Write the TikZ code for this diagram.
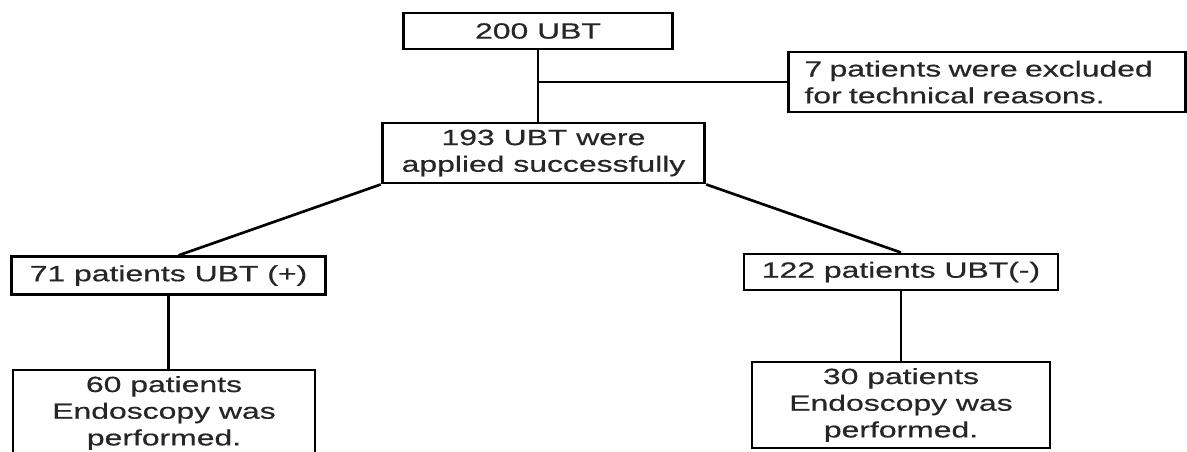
\documentclass[tikz,border=0pt]{standalone}
\usepackage{fontspec}
\setmainfont[FakeStretch=1.45, FakeBold=0.6]{Liberation Sans}
\begin{document}
\begin{tikzpicture}[x=0.75pt, y=-0.75pt, every node/.style={draw, line width=2.2pt, inner sep=0pt, align=center, text=black!85, font=\fontsize{16.5}{20}\selectfont}, link/.style={line width=2pt}]
		\useasboundingbox (0,0) rectangle (1187,452);
		\clip (0,0) rectangle (1187,452);
		\node[minimum width=201.75pt, minimum height=27pt] at (538,31) (ubt) {200 UBT};
		\node[anchor=west, text width=273.75pt, inner xsep=12pt, minimum height=45pt, align=left] at (787,82) (excl) {7 patients were excluded\\for technical reasons.};
		\node[minimum width=242pt, minimum height=45pt] at (543.5,153) (succ) {193 UBT were\\applied successfully};
		\node[minimum width=236pt, minimum height=28pt] at (168.5,275.5) (pos) {71 patients UBT (+)};
		\node[minimum width=235.5pt, minimum height=27pt] at (901,272) (neg) {122 patients UBT(-)};
		\node[minimum width=226.5pt, minimum height=64.5pt] at (164,413) (endpos) {60 patients\\Endoscopy was\\performed.};
		\node[minimum width=223.5pt, minimum height=64.5pt] at (901,405) (endneg) {30 patients\\Endoscopy was\\performed.};
		
		\draw[link] (ubt.south) -- (ubt.south |- succ.north) (excl.west) -- (excl.west -| ubt.south);
		\draw[link] (succ.south west) -- ([xshift=7.5pt]pos.north) (succ.south east) -- (neg.north);
		\draw[link] (pos.south) -- (pos.south |- endpos.north) (neg.south) -- (endneg.north);
\end{tikzpicture}
\end{document}
